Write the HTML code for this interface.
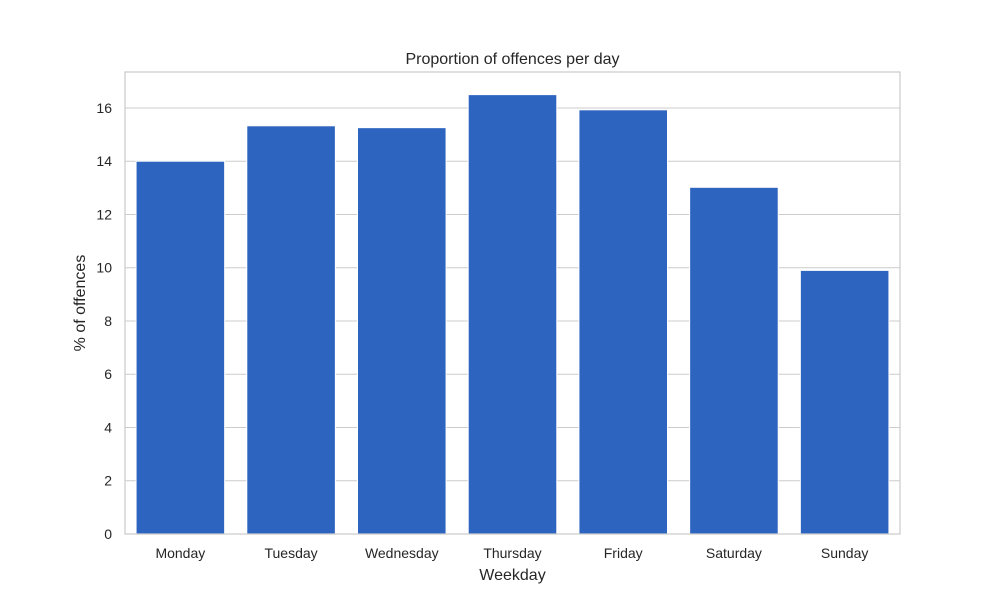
<!DOCTYPE html>
<html><head><meta charset="utf-8"><style>
html,body{margin:0;padding:0;background:#fff;}
svg{display:block;font-family:"Liberation Sans","DejaVu Sans",sans-serif;}
</style></head><body>
<svg id="chart" width="1000" height="600" viewBox="0 0 1000 600"></svg>
<script>
const categories = ["Monday","Tuesday","Wednesday","Thursday","Friday","Saturday","Sunday"];
const values = [14.0, 15.33, 15.26, 16.5, 15.93, 13.02, 9.9];
const yTicks = [0,2,4,6,8,10,12,14,16];
const yMax = 17.35;

const svg = document.getElementById('chart');
const NS = 'http://www.w3.org/2000/svg';
const L = 125, R = 900, T = 72, B = 534;
function x(i){ return L + (R-L)/categories.length * i; }
function y(v){ return B - (B-T) * v / yMax; }
function mk(tag, attrs, text){
  const e = document.createElementNS(NS, tag);
  for (const k in attrs) e.setAttribute(k, attrs[k]);
  if (text !== undefined) e.textContent = text;
  svg.appendChild(e);
  return e;
}
// grid + y ticks
yTicks.forEach(t => {
  const g = mk('line', {x1:L, x2:R, y1:y(t), y2:y(t), stroke:'#cccccc', 'stroke-width':1});
  
  
  const lb = mk('text', {x:L-13, y:y(t)+5, 'text-anchor':'end', 'font-size':14, fill:'#262626'}, String(t));
  
  
});
// bars
const step = (R-L)/categories.length;
categories.forEach((c, i) => {
  const bw = step*0.8;
  const bx = x(i) + step*0.1;
  const r = mk('rect', {x:bx, y:y(values[i]), width:bw, height:B-y(values[i]), fill:'#2d64c0', stroke:'#ffffff', 'stroke-width':1});
  
  
  const lb = mk('text', {x:x(i)+step/2, y:B+24, 'text-anchor':'middle', 'font-size':14, fill:'#262626'}, c);
  
  
});
// frame
const fr = mk('rect', {x:L, y:T, width:R-L, height:B-T, fill:'none', stroke:'#cccccc', 'stroke-width':1.25});


const ti = mk('text', {x:(L+R)/2, y:64, 'text-anchor':'middle', 'font-size':16, fill:'#262626'}, 'Proportion of offences per day');


const xt = mk('text', {x:(L+R)/2, y:580, 'text-anchor':'middle', 'font-size':16, fill:'#262626'}, 'Weekday');


const yt = mk('text', {x:0, y:0, 'text-anchor':'middle', 'font-size':16, fill:'#262626', transform:'translate(85,303) rotate(-90)'}, '% of offences');


</script>
</body></html>
